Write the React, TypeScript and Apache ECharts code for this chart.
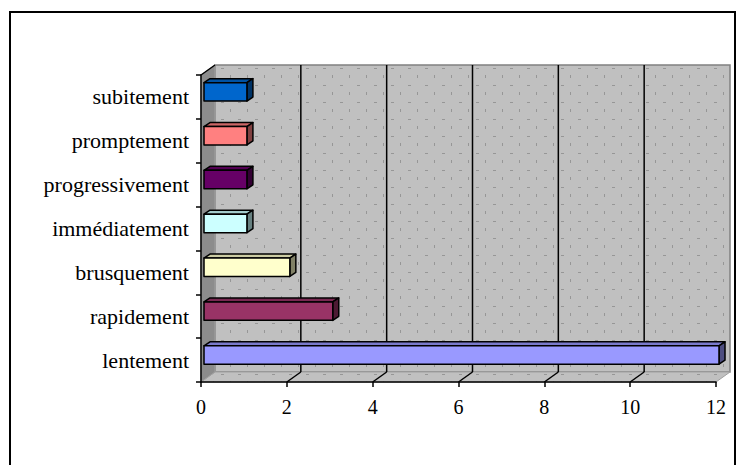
import React, { useEffect, useRef } from "react";
import * as echarts from "echarts";

const categories = [
  "lentement",
  "rapidement",
  "brusquement",
  "immédiatement",
  "progressivement",
  "promptement",
  "subitement",
];
const values = [12, 3, 2, 1, 1, 1, 1];
const barColors = ["#9999FF", "#993366", "#FFFFCC", "#CCFFFF", "#660066", "#FF8080", "#0066CC"];
const ticks = [0, 2, 4, 6, 8, 10, 12];
const xMax = 12;

const DX = 14;
const DY = -10;
const FONT = "Liberation Serif";

function shade(hex: string, k: number) {
  const n = parseInt(hex.slice(1), 16);
  const r = Math.round(((n >> 16) & 255) * k);
  const g = Math.round(((n >> 8) & 255) * k);
  const b = Math.round((n & 255) * k);
  return `rgb(${r},${g},${b})`;
}

function makePattern() {
  const c = document.createElement("canvas");
  c.width = 17;
  c.height = 17;
  const ctx = c.getContext("2d")!;
  ctx.fillStyle = "#c0c0c0";
  ctx.fillRect(0, 0, 17, 17);
  ctx.fillStyle = "#969696";
  ctx.fillRect(0, 0, 3, 1);
  ctx.fillRect(9, 7, 1, 3);
  return { image: c, repeat: "repeat" } as any;
}

export default function App() {
  const ref = useRef<HTMLDivElement>(null);
  useEffect(() => {
    if (!ref.current) return;
    const chart = echarts.init(ref.current, null, { renderer: "svg" });
    const pattern = makePattern();

    const wallSeries = {
      type: "custom",
      z: 1,
      silent: true,
      clip: false,
      data: [[0, 0]],
      renderItem: (_p: any, api: any) => {
        const p0 = api.coord([0, 0]);
        const p1 = api.coord([xMax, categories.length - 1]);
        const bh = api.size([0, 1])[1];
        const left = p0[0];
        const right = p1[0];
        const bottom = p0[1] + bh / 2;
        const top = p1[1] - bh / 2;
        return {
          type: "group",
          children: [
            {
              type: "rect",
              shape: { x: left + DX, y: top + DY, width: right - left, height: bottom - top },
              style: { fill: pattern, stroke: "#808080", lineWidth: 1.5 },
            },
            {
              type: "polygon",
              shape: {
                points: [
                  [left, bottom],
                  [left + DX, bottom + DY],
                  [right + DX, bottom + DY],
                  [right, bottom],
                ],
              },
              style: { fill: pattern, stroke: "#a0a0a0", lineWidth: 1 },
            },
            {
              type: "polygon",
              shape: {
                points: [
                  [left, top],
                  [left + DX, top + DY],
                  [left + DX, bottom + DY],
                  [left, bottom],
                ],
              },
              style: { fill: "#8c8c8c", stroke: "#a0a0a0", lineWidth: 1 },
            },
            {
              type: "line",
              shape: { x1: left, y1: top, x2: left + DX, y2: top + DY },
              style: { stroke: "#000", lineWidth: 1.5 },
            },
          ],
        };
      },
    };

    const gridSeries = {
      type: "custom",
      z: 2,
      silent: true,
      clip: false,
      data: ticks.filter((t) => t > 0 && t < xMax).map((t) => [t, 0]),
      renderItem: (_p: any, api: any) => {
        const v = api.value(0);
        const p0 = api.coord([v, 0]);
        const p1 = api.coord([v, categories.length - 1]);
        const bh = api.size([0, 1])[1];
        const x = p0[0];
        const bottom = p0[1] + bh / 2;
        const top = p1[1] - bh / 2;
        return {
          type: "group",
          children: [
            {
              type: "line",
              shape: { x1: x + DX, y1: top + DY, x2: x + DX, y2: bottom + DY },
              style: { stroke: "#000", lineWidth: 1.5 },
            },
            {
              type: "line",
              shape: { x1: x, y1: bottom, x2: x + DX, y2: bottom + DY },
              style: { stroke: "#000", lineWidth: 1.5 },
            },
          ],
        };
      },
    };

    const barSeries = {
      type: "custom",
      z: 3,
      clip: false,
      data: values.map((v, i) => [v, i]),
      encode: { x: 0, y: 1 },
      renderItem: (_p: any, api: any) => {
        const v = api.value(0);
        const i = api.value(1);
        const a = api.coord([0, i]);
        const b = api.coord([v, i]);
        const bh = api.size([0, 1])[1];
        const ox = 3;
        const oy = -2;
        const dx = 6;
        const dy = -4;
        const xl = a[0] + ox;
        const xr = b[0] + ox;
        const top = a[1] - 0.28 * bh + oy;
        const bot = a[1] + 0.14 * bh + oy;
        const col = barColors[i];
        const st = { stroke: "#000", lineWidth: 1.5, lineJoin: "round" };
        return {
          type: "group",
          children: [
            {
              type: "polygon",
              shape: { points: [[xl, top], [xl + dx, top + dy], [xr + dx, top + dy], [xr, top]] },
              style: { fill: shade(col, 0.8), ...st },
            },
            {
              type: "polygon",
              shape: { points: [[xr, top], [xr + dx, top + dy], [xr + dx, bot + dy], [xr, bot]] },
              style: { fill: shade(col, 0.5), ...st },
            },
            {
              type: "rect",
              shape: { x: xl, y: top, width: xr - xl, height: bot - top },
              style: { fill: col, ...st },
            },
          ],
        };
      },
    };

    chart.setOption({
      animation: false,
      backgroundColor: "#ffffff",
      grid: { left: 201, right: 28, top: 75, bottom: 83, containLabel: false },
      xAxis: {
        type: "value",
        min: 0,
        max: xMax,
        interval: 2,
        z: 10,
        axisLine: { show: true, lineStyle: { color: "#000", width: 1.5 } },
        axisTick: { show: true, length: 5, lineStyle: { color: "#000", width: 1.5 } },
        axisLabel: { color: "#000", fontFamily: FONT, fontSize: 20, margin: 15 },
        splitLine: { show: false },
      },
      yAxis: {
        type: "category",
        data: categories,
        z: 10,
        axisLine: { show: true, lineStyle: { color: "#000", width: 1.5 } },
        axisTick: { show: true, length: 5, alignWithLabel: false, lineStyle: { color: "#000", width: 1.5 } },
        axisLabel: { color: "#000", fontFamily: FONT, fontSize: 22, margin: 12 },
        splitLine: { show: false },
      },
      graphic: [
        {
          type: "rect",
          silent: true,
          shape: { x: 10, y: 12, width: 725, height: 480 },
          style: { fill: "none", stroke: "#000", lineWidth: 2 },
        },
      ],
      series: [wallSeries, gridSeries, barSeries],
    });
    return () => chart.dispose();
  }, []);
  return (
    <div
      ref={ref}
      style={{ position: "absolute", left: 0, top: 0, width: 744, height: 465 }}
    />
  );
}
